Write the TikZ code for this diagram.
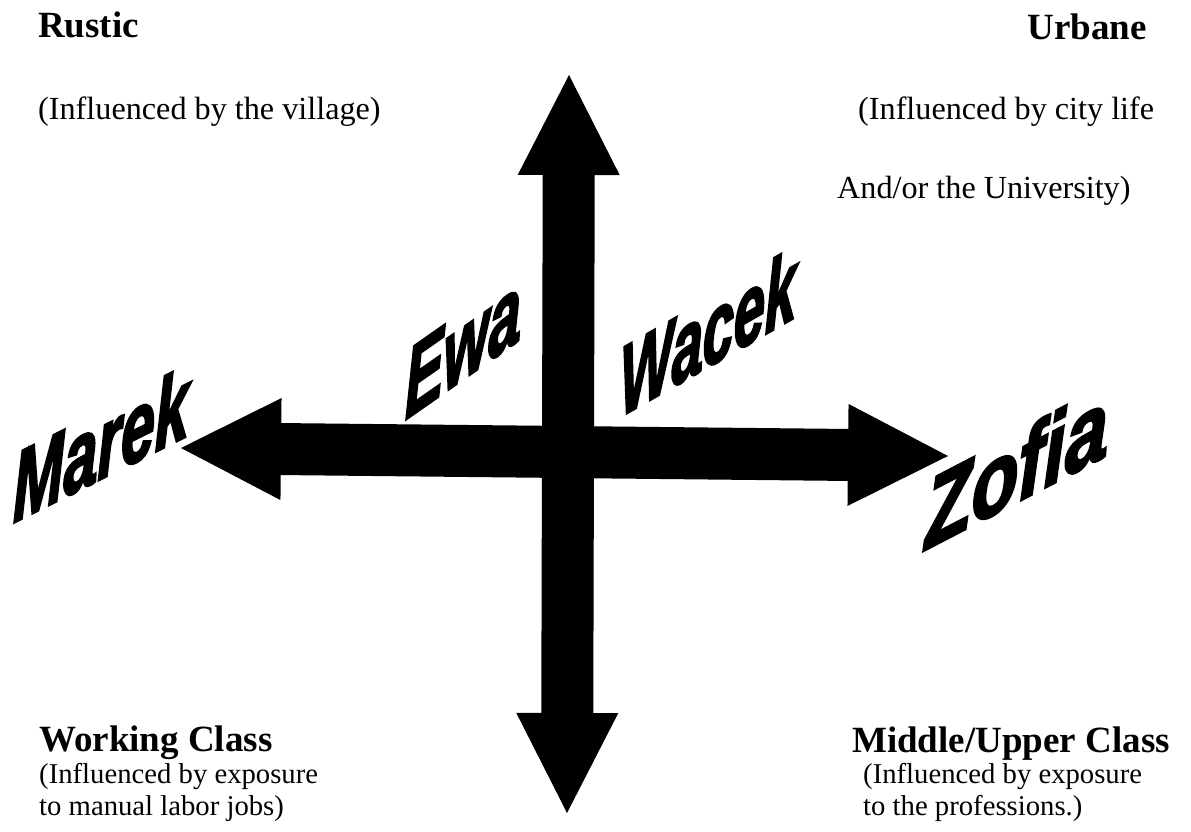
\documentclass[tikz,border=0pt]{standalone}
\usepackage{fontspec}
\setmainfont{Liberation Serif}
\newfontfamily\whofont{Liberation Sans}[BoldItalicFeatures={FakeBold=3}]
\usetikzlibrary{calc}

\tikzset{
  heading/.style={anchor=base west,inner sep=0pt,font=\bfseries\fontsize{37}{40}\selectfont},
  note/.style={anchor=base west,inner sep=0pt,font=\fontsize{28.7}{30}\selectfont},
  bignote/.style={note,font=\fontsize{32.2}{34}\selectfont},
  who/.style={anchor=base west,inner sep=0pt,transform shape,font=\whofont\bfseries\itshape\fontsize{98}{98}\selectfont}
}

\begin{document}
\begin{tikzpicture}[x=1pt,y=-1pt]
  \useasboundingbox (0,0) rectangle (1191,832);
  % arrow ends
  \coordinate (west) at (181,448);
  \coordinate (east) at (948,456);
  \coordinate (north) at (569,75);
  \coordinate (south) at (567,813);
  \foreach \a/\b in {west/east,north/south}
    \fill (\a) -- ($(\a)!100pt!(\b)!51pt!90:(\b)$) -- ($(\a)!100pt!(\b)!26pt!90:(\b)$)
      -- ($(\b)!100pt!(\a)!26pt!-90:(\a)$) -- ($(\b)!100pt!(\a)!51pt!-90:(\a)$) -- (\b)
      -- ($(\b)!100pt!(\a)!51pt!90:(\a)$) -- ($(\b)!100pt!(\a)!26pt!90:(\a)$)
      -- ($(\a)!100pt!(\b)!26pt!-90:(\b)$) -- ($(\a)!100pt!(\b)!51pt!-90:(\b)$) -- cycle;
  % corner labels
  \node[heading] (rustic) at (38,38) {Rustic};
  \node[bignote] (village) at (38,120) {(Influenced by the village)};
  \node[heading,anchor=base east] (urbane) at (1147,40) {Urbane};
  \node[bignote] (city) at (858,120) {(Influenced by city life};
  \node[bignote] (univ) at (837,198) {And/or the University)};
  \node[heading] (working) at (39,751) {Working Class};
  \node[note] (manual) at (39,783) {(Influenced by exposure};
  \node[note] (labor) at (39,815) {to manual labor jobs)};
  \node[heading] (middle) at (852,752) {Middle/Upper Class};
  \node[note] (expo) at (863,783) {(Influenced by exposure};
  \node[note] (prof) at (863,815) {to the professions.)};
  % names
  \node[who,yslant=0.5,xscale=0.62] (marek) at (13,523) {Marek};
  \node[who,yslant=0.7,xscale=0.59] (ewa) at (405,420) {Ewa};
  \node[who,yslant=0.57,xscale=0.57] (wacek) at (620,417) {Wacek};
  \node[who,yslant=0.52,xscale=0.78] (zofia) at (925,550) {Zofia};
\end{tikzpicture}
\end{document}
